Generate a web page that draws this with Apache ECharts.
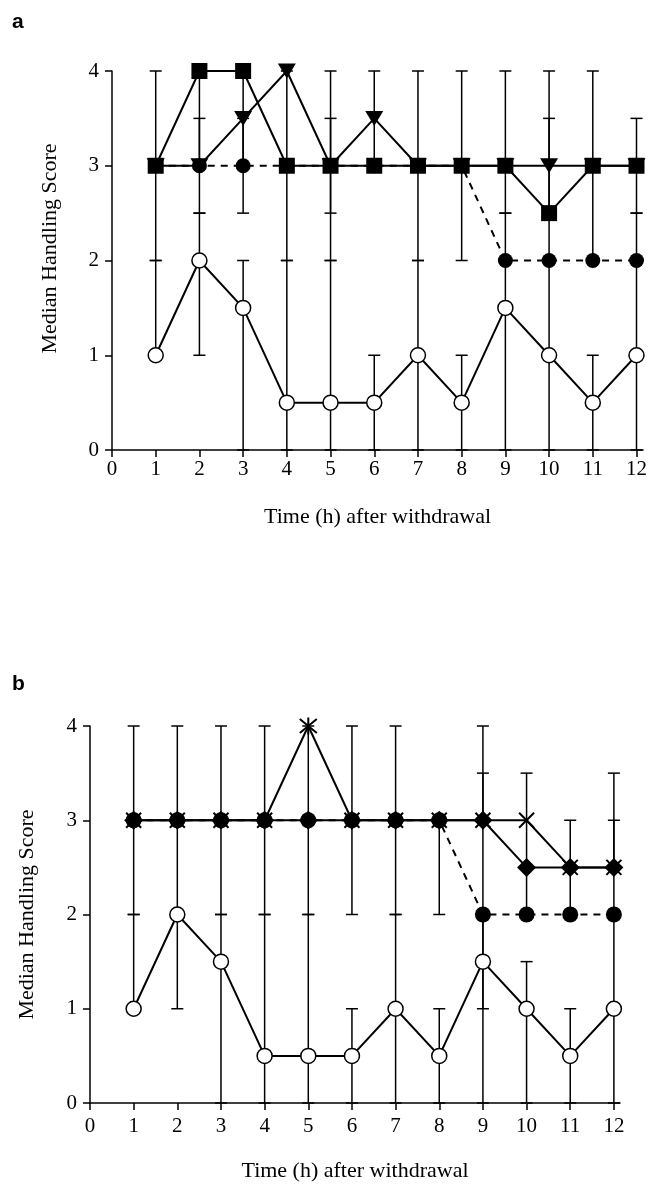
<!DOCTYPE html>
<html>
<head>
    <meta charset="utf-8">
    <title>Median Handling Score</title>
    <script src="https://cdn.jsdelivr.net/npm/echarts@6/dist/echarts.min.js"></script>
    <style>
        body, html { margin: 0; padding: 0; background: #fff; }
        #main { width: 650px; height: 1187px; }
    </style>
</head>
<body>
    <div id="main"></div>
    <script>
        var hours = [1, 2, 3, 4, 5, 6, 7, 8, 9, 10, 11, 12];
        var xTicks = [0, 1, 2, 3, 4, 5, 6, 7, 8, 9, 10, 11, 12];
        var yTicks = [0, 1, 2, 3, 4];

        // panel a medians
        var aOpen = [1, 2, 1.5, 0.5, 0.5, 0.5, 1, 0.5, 1.5, 1, 0.5, 1];
        var aFilled = [3, 3, 3, 3, 3, 3, 3, 3, 2, 2, 2, 2];
        var aTriangle = [3, 3, 3.5, 4, 3, 3.5, 3, 3, 3, 3, 3, 3];
        var aSquare = [3, 4, 4, 3, 3, 3, 3, 3, 3, 2.5, 3, 3];
        // panel a ranges
        var aOpenLow = [1, 1, 0, 0, 0, 0, 0, 0, 0, 0, 0, 0];
        var aOpenHigh = [2, 2.5, 2, 2, 2, 1, 2, 1, 2.5, 2, 1, 2.5];
        var aSquareLow = [2, 3, 3, 2, 2, 3, 2, 2, 2.5, 2.5, 2, 2.5];
        var aSquareHigh = [4, 4, 4, 4, 4, 4, 4, 4, 4, 4, 4, 3.5];
        var aFilledLow = [null, 2.5, 2.5, null, 2.5, null, null, null, null, null, null, null];
        var aFilledHigh = [null, 3.5, 3.5, null, 3.5, null, null, null, null, null, null, null];
        var aTriangleLow = [null, null, null, null, null, null, null, null, null, 2, null, null];
        var aTriangleHigh = [null, null, null, null, null, null, null, null, null, 3.5, null, null];

        // panel b medians
        var bOpen = [1, 2, 1.5, 0.5, 0.5, 0.5, 1, 0.5, 1.5, 1, 0.5, 1];
        var bFilled = [3, 3, 3, 3, 3, 3, 3, 3, 2, 2, 2, 2];
        var bCross = [3, 3, 3, 3, 4, 3, 3, 3, 3, 3, 2.5, 2.5];
        var bDiamond = [3, 3, 3, 3, 3, 3, 3, 3, 3, 2.5, 2.5, 2.5];
        // panel b ranges
        var bOpenLow = [1, 1, 0, 0, 0, 0, 0, 0, 1, 0, 0, 0];
        var bOpenHigh = [2, 2, 2, 2, 2, 1, 2, 1, 3.5, 1.5, 1, 2];
        var bCrossLow = [2, 2, 2, 2, 2, 2, 2, 2, 3, 2, 2, 2];
        var bCrossHigh = [4, 4, 4, 4, 4, 4, 4, 3, 4, 3.5, 3, 3.5];
        var bFilledLow = [null, null, null, null, null, null, null, null, 0, null, null, null];
        var bFilledHigh = [null, null, null, null, null, null, null, null, 2, null, null, null];
        var bDiamondLow = [null, null, null, null, null, null, null, null, null, null, null, 2.5];
        var bDiamondHigh = [null, null, null, null, null, null, null, null, null, null, null, 3];

        var FONT = 'Liberation Serif';
        var CROSS = 'path://M0,0L10,10M10,0L0,10';
        var STAR = 'path://M0,0L10,10M10,0L0,10M5,-1L5,11';

        function pairs(vals) {
            return hours.map(function (h, i) { return [h, vals[i]]; });
        }
        function ranges(lows, highs) {
            return hours.map(function (h, i) { return [h, lows[i], highs[i]]; })
                .filter(function (d) { return d[1] != null; });
        }

        function renderErr(params, api) {
            var x = api.value(0);
            var lo = api.coord([x, api.value(1)]);
            var hi = api.coord([x, api.value(2)]);
            var w = 6;
            var st = { stroke: '#000', lineWidth: 1.5 };
            return {
                type: 'group',
                children: [
                    { type: 'line', shape: { x1: lo[0], y1: lo[1], x2: hi[0], y2: hi[1] }, style: st },
                    { type: 'line', shape: { x1: lo[0] - w, y1: lo[1], x2: lo[0] + w, y2: lo[1] }, style: st },
                    { type: 'line', shape: { x1: hi[0] - w, y1: hi[1], x2: hi[0] + w, y2: hi[1] }, style: st }
                ]
            };
        }

        function errSeries(idx, lows, highs) {
            return {
                type: 'custom', xAxisIndex: idx, yAxisIndex: idx, z: 1,
                renderItem: renderErr, encode: { x: 0, y: [1, 2] },
                data: ranges(lows, highs), silent: true
            };
        }

        function lineSeries(idx, vals, opts) {
            return {
                type: 'line', xAxisIndex: idx, yAxisIndex: idx,
                data: pairs(vals), silent: true,
                lineStyle: { color: '#000', width: 2, type: opts.dashed ? [7, 6] : 'solid' },
                itemStyle: { color: opts.fill, borderColor: '#000', borderWidth: opts.border || 0 },
                symbol: opts.symbol, symbolSize: opts.size,
                symbolRotate: opts.rotate || 0, z: opts.z
            };
        }

        function xAxis(idx, max, margin, gap) {
            return {
                type: 'value', gridIndex: idx, min: 0, max: max,
                name: 'Time (h) after withdrawal', nameLocation: 'middle', nameGap: gap,
                nameTextStyle: { fontFamily: FONT, fontSize: 22, color: '#000' },
                axisLine: { lineStyle: { color: '#000', width: 1.5 } },
                axisTick: { length: 7, lineStyle: { color: '#000', width: 1.5 }, customValues: xTicks },
                axisLabel: { fontFamily: FONT, fontSize: 21, color: '#000', margin: margin, customValues: xTicks },
                splitLine: { show: false }
            };
        }
        function yAxis(idx, gap, shift) {
            return {
                type: 'value', gridIndex: idx, min: yTicks[0], max: yTicks[yTicks.length - 1], interval: 1,
                name: 'Median Handling Score', nameLocation: 'middle', nameGap: gap,
                nameTextStyle: { fontFamily: FONT, fontSize: 22, color: '#000', padding: [0, 0, 0, shift] },
                axisLine: { show: true, lineStyle: { color: '#000', width: 1.5 } },
                axisTick: { show: true, length: 7, lineStyle: { color: '#000', width: 1.5 } },
                axisLabel: { fontFamily: FONT, fontSize: 21, color: '#000', margin: 13 },
                splitLine: { show: false }
            };
        }

        var crossData = pairs(bCross).map(function (p, i) {
            return i === 4 ? { value: p, symbol: STAR, symbolSize: 17 } : p;
        });

        var chart = echarts.init(document.getElementById('main'));
        chart.setOption({
            animation: false,
            backgroundColor: '#fff',
            grid: [
                { left: 112, top: 71, width: 532, height: 379 },
                { left: 90, top: 726, width: 530, height: 377 }
            ],
            xAxis: [xAxis(0, 12.15, 9, 56), xAxis(1, 12.14, 13, 57)],
            yAxis: [yAxis(0, 51, 24), yAxis(1, 52, 0)],
            graphic: [
                { type: 'text', left: 12, top: 12, style: { text: 'a', font: 'bold 21px Liberation Sans', fill: '#000' } },
                { type: 'text', left: 12, top: 674, style: { text: 'b', font: 'bold 21px Liberation Sans', fill: '#000' } }
            ],
            series: [
                errSeries(0, aOpenLow, aOpenHigh),
                errSeries(0, aSquareLow, aSquareHigh),
                errSeries(0, aFilledLow, aFilledHigh),
                errSeries(0, aTriangleLow, aTriangleHigh),
                lineSeries(0, aOpen, { symbol: 'circle', size: 15, fill: '#fff', border: 1.5, z: 2 }),
                lineSeries(0, aTriangle, { symbol: 'triangle', size: [18, 15], rotate: 180, fill: '#000', z: 3 }),
                lineSeries(0, aFilled, { symbol: 'circle', size: 15, fill: '#000', dashed: true, z: 4 }),
                lineSeries(0, aSquare, { symbol: 'rect', size: 16, fill: '#000', z: 5 }),

                errSeries(1, bOpenLow, bOpenHigh),
                errSeries(1, bCrossLow, bCrossHigh),
                errSeries(1, bFilledLow, bFilledHigh),
                errSeries(1, bDiamondLow, bDiamondHigh),
                lineSeries(1, bOpen, { symbol: 'circle', size: 15, fill: '#fff', border: 1.5, z: 2 }),
                lineSeries(1, bDiamond, { symbol: 'diamond', size: 19, fill: '#000', z: 3 }),
                lineSeries(1, bFilled, { symbol: 'circle', size: 16, fill: '#000', dashed: true, z: 4 }),
                Object.assign(lineSeries(1, bCross, { symbol: CROSS, size: 15, fill: 'none', border: 2, z: 5 }), { data: crossData })
            ]
        });
    </script>
</body>
</html>
